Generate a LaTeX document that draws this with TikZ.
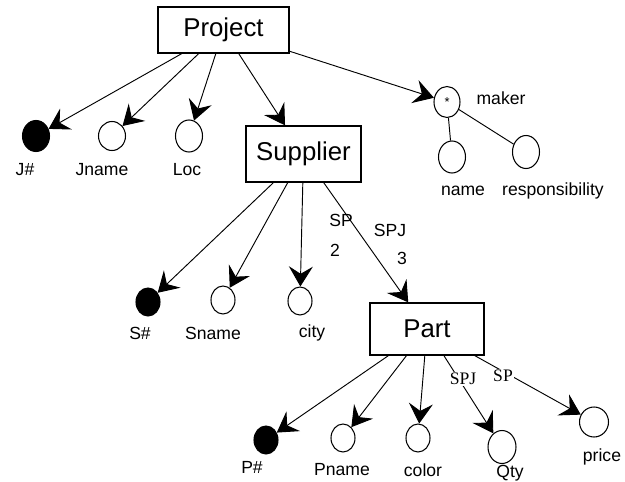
\documentclass[tikz,border=0pt]{standalone}
\usepackage{fontspec}
\setmainfont{Liberation Sans}
\newfontfamily\relfont{Liberation Serif}
\usetikzlibrary{arrows.meta,shapes.geometric}
\tikzset{
  entity/.style={draw,line width=1.1pt,inner sep=0pt,font=\fontsize{22}{26}\selectfont},
  attr/.style={draw,ellipse,line width=0.9pt,inner sep=0pt,minimum width=0.72cm,minimum height=0.84cm},
  keyattr/.style={attr,fill=black},
  lbl/.style={font=\fontsize{15}{18}\selectfont,inner sep=0pt},
  rel/.style={font=\relfont\fontsize{15}{17}\selectfont,inner sep=1pt,fill=white},
  link/.style={line width=0.8pt},
  arr/.style={link,-{Stealth[length=0.6cm,width=0.72cm,inset=0.22cm]}}
}
\begin{document}
\begin{tikzpicture}[x=0.03cm,y=-0.03cm]
\useasboundingbox (0,0) rectangle (625,481);
% entities
\node[entity,minimum width=3.93cm,minimum height=1.38cm] (proj) at (223.5,30) {Project};
\node[entity,minimum width=3.45cm,minimum height=1.68cm] (supp) at (303.5,154) {Supplier};
\node[entity,minimum width=3.42cm,minimum height=1.56cm] (part) at (427,329) {Part};

% attributes of Project
\node[keyattr,minimum width=0.81cm,minimum height=0.93cm] (jnum) at (36,136) {};
\node[attr,minimum width=0.81cm,minimum height=0.87cm] (jname) at (112,136) {};
\node[attr,minimum width=0.81cm,minimum height=0.96cm] (loc) at (189,136) {};
\node[attr,minimum width=0.78cm,minimum height=0.93cm,font=\fontsize{11}{12}\selectfont] (maker) at (447,102) {\raisebox{-3pt}{*}};
\node[attr,minimum width=0.81cm,minimum height=0.96cm] (mname) at (452,157) {};
\node[attr,minimum width=0.81cm,minimum height=0.99cm] (resp) at (526,152) {};
\node[lbl] (jnum-l) at (25,170) {J\#};
\node[lbl] (jname-l) at (102,170) {Jname};
\node[lbl] (loc-l) at (187,170) {Loc};
\node[lbl] (maker-l) at (501,98) {maker};
\node[lbl] (mname-l) at (463,191) {name};
\node[lbl] (resp-l) at (553,191) {responsibility};

% attributes of Supplier
\node[keyattr] (snum) at (148,302) {};
\node[attr] (sname) at (223,300) {};
\node[attr] (city) at (300,301) {};
\node[lbl] (snum-l) at (140,333) {S\#};
\node[lbl] (sname-l) at (213,333) {Sname};
\node[lbl] (city-l) at (312,333) {city};

% attributes of Part
\node[keyattr] (pnum) at (266,440) {};
\node[attr] (pname) at (343,438) {};
\node[attr] (color) at (418,438) {};
\node[attr,minimum width=0.84cm,minimum height=0.99cm] (qty) at (502,447) {};
\node[attr,minimum width=0.87cm,minimum height=0.9cm] (price) at (594,422) {};
\node[lbl] (pnum-l) at (252,467) {P\#};
\node[lbl] (pname-l) at (342,470) {Pname};
\node[lbl] (color-l) at (423,470) {color};
\node[lbl] (qty-l) at (510,473) {Qty};
\node[lbl] (price-l) at (602,457) {price};

% connectors
\draw[arr] (proj) -- (jnum);
\draw[arr] (proj) -- (jname);
\draw[arr] (proj) -- (loc);
\draw[arr] (proj) -- (supp);
\draw[arr] (proj) -- (maker);
\draw[link] (maker) -- (mname);
\draw[link] (maker) -- (resp);

\draw[arr] (supp) -- (snum);
\draw[arr] (supp) -- (sname);
\draw[arr] (supp) -- (city);
\draw[arr] (supp) -- (part);

\draw[arr] (part) -- (pnum);
\draw[arr] (part) -- (pname);
\draw[arr] (part) -- (color);
\draw[arr] (part) -- (qty);
\draw[arr] (part) -- (price);

% relationship labels
\node[lbl] (sp2) at (341,220) {SP};
\node[lbl] (sp2-n) at (335,250) {2};
\node[lbl] (spj3) at (390,230) {SPJ};
\node[lbl] (spj3-n) at (402,258) {3};
\node[rel] (spj-q) at (463,379) {SPJ};
\node[rel] (sp-p) at (503,376) {SP};
\end{tikzpicture}
\end{document}
